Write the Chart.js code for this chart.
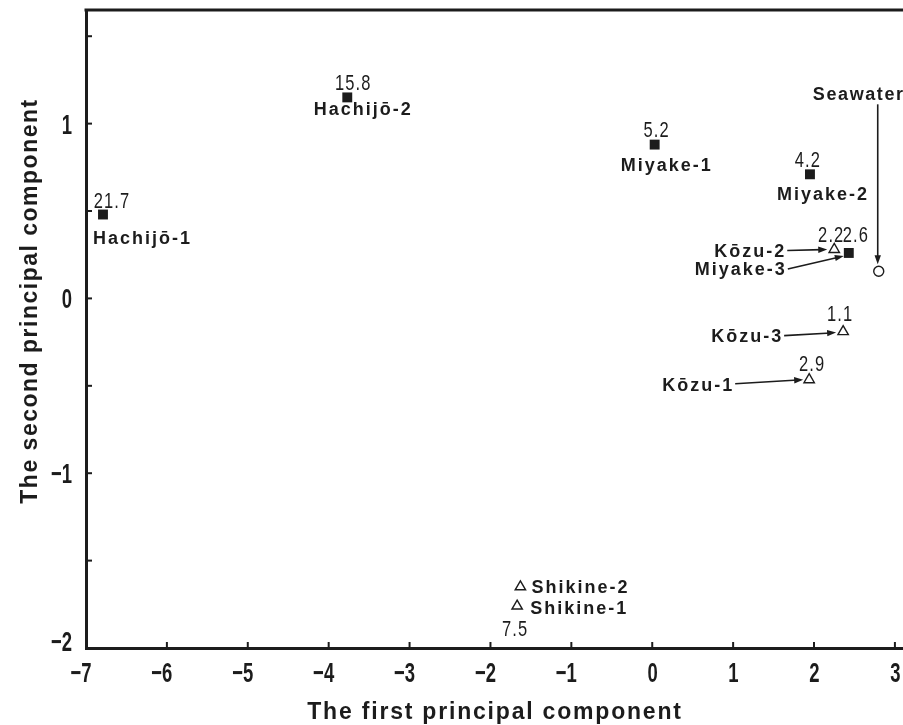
<!DOCTYPE html>
<html>
<head>
<meta charset="utf-8">
<script src="https://cdn.jsdelivr.net/npm/chart.js@4.4.1/dist/chart.umd.min.js"></script>
<style>
  html, body { margin: 0; padding: 0; background: #fff; }
  #wrap { width: 903px; height: 725px; }
</style>
</head>
<body>
<div id="wrap"><canvas id="pcaChart"></canvas></div>
<script>
// PCA scores
const squareNames = ['Hachijō-1', 'Hachijō-2', 'Miyake-1', 'Miyake-2', 'Miyake-3'];
const squarePC1 = [-6.79, -3.77, 0.03, 1.95, 2.43];
const squarePC2 = [0.48, 1.15, 0.88, 0.71, 0.26];
const squareValues = ['21.7', '15.8', '5.2', '4.2', '2.6'];

const triangleNames = ['Kōzu-1', 'Kōzu-2', 'Kōzu-3', 'Shikine-1', 'Shikine-2'];
const trianglePC1 = [1.94, 2.25, 2.36, -1.67, -1.63];
const trianglePC2 = [-0.465, 0.28, -0.19, -1.76, -1.65];
const triangleValues = ['2.9', '2.2', '1.1', '7.5', ''];

const seawaterNames = ['Seawater'];
const seawaterPC1 = [2.80];
const seawaterPC2 = [0.155];

const xTicks = [-7, -6, -5, -4, -3, -2, -1, 0, 1, 2, 3];
const yTicks = [-2, -1.5, -1, -0.5, 0, 0.5, 1, 1.5];

const ink = '#1c1c1c';
const sans = '"Liberation Sans", Arial, sans-serif';

// where each annotation sits, in px from its point
const labelSpots = {
    'Hachijō-1': { name: [-10, 23, 'left'], value: [9, -15] },
    'Hachijō-2': { name: [16, 11, 'center'], value: [6, -15] },
    'Miyake-1': { name: [12, 20, 'center'], value: [2, -16] },
    'Miyake-2': { name: [13, 19, 'center'], value: [-2, -15] },
    'Miyake-3': { name: [-64, 16, 'right'], value: [7, -19], arrow: [-61, 16, -5, 3] },
    'Kōzu-1': { name: [-77, 5, 'right'], value: [3, -17], arrow: [-74, 4, -6, 0] },
    'Kōzu-2': { name: [-50, 1, 'right'], value: [-3, -15], arrow: [-47, 1, -7, 0] },
    'Kōzu-3': { name: [-62, 4, 'right'], value: [-3, -19], arrow: [-59, 4, -7, 1] },
    'Shikine-1': { name: [13, 1, 'left'], value: [-2, 22] },
    'Shikine-2': { name: [11, 0, 'left'] },
    'Seawater': { name: [-20, -178, 'center'], arrow: [-1, -167, -1, -7] }
};

const toPoints = (xs, ys) => xs.map((x, i) => ({ x, y: ys[i] }));
const fmt = v => (v < 0 ? '\u2212' : '') + Math.abs(v);

// condensed look: squeeze a normal face horizontally
function narrowText(ctx, text, x, y, align, font, sx, spacing) {
    ctx.save();
    ctx.font = font;
    ctx.letterSpacing = (spacing || 0) + 'px';
    ctx.textAlign = align;
    ctx.textBaseline = 'alphabetic';
    ctx.scale(sx, 1);
    ctx.fillText(text, x / sx, y);
    ctx.restore();
}

function drawArrow(ctx, x1, y1, x2, y2) {
    const ang = Math.atan2(y2 - y1, x2 - x1);
    const len = 9, half = 3.2;
    ctx.beginPath();
    ctx.moveTo(x1, y1);
    ctx.lineTo(x2 - Math.cos(ang) * len * 0.6, y2 - Math.sin(ang) * len * 0.6);
    ctx.stroke();
    ctx.beginPath();
    ctx.moveTo(x2, y2);
    ctx.lineTo(x2 - Math.cos(ang) * len - Math.sin(ang) * half, y2 - Math.sin(ang) * len + Math.cos(ang) * half);
    ctx.lineTo(x2 - Math.cos(ang) * len + Math.sin(ang) * half, y2 - Math.sin(ang) * len - Math.cos(ang) * half);
    ctx.closePath();
    ctx.fill();
}

const decorPlugin = {
    id: 'decor',
    afterDatasetsDraw(chart) {
        const { ctx, chartArea: a, scales: { x, y } } = chart;
        ctx.save();
        ctx.strokeStyle = ink;
        ctx.fillStyle = ink;

        // top frame line
        ctx.lineWidth = 3;
        ctx.beginPath();
        ctx.moveTo(a.left - 1.5, a.top);
        ctx.lineTo(a.right, a.top);
        ctx.stroke();

        // inward tick marks + tick labels
        const tickFont = 'bold 28px ' + sans;
        ctx.lineWidth = 2;
        xTicks.forEach(v => {
            const px = x.getPixelForValue(v);
            ctx.beginPath();
            ctx.moveTo(px, a.bottom);
            ctx.lineTo(px, a.bottom - 6);
            ctx.stroke();
            narrowText(ctx, fmt(v), px + 5.5, a.bottom + 34, 'right', tickFont, 0.66);
        });
        yTicks.forEach(v => {
            const py = y.getPixelForValue(v);
            ctx.beginPath();
            ctx.moveTo(a.left, py);
            ctx.lineTo(a.left + 6, py);
            ctx.stroke();
            if (Number.isInteger(v)) {
                const lift = v === yTicks[0] ? 7 : 0;
                narrowText(ctx, fmt(v), 72, py + 10 - lift, 'right', tickFont, 0.66);
            }
        });

        // axis titles
        ctx.font = 'bold 23px ' + sans;
        ctx.textAlign = 'center';
        ctx.textBaseline = 'alphabetic';
        ctx.letterSpacing = '1.8px';
        ctx.fillText('The first principal component', 495, 719);
        ctx.save();
        ctx.letterSpacing = '1.5px';
        ctx.translate(37, 301);
        ctx.rotate(-Math.PI / 2);
        ctx.fillText('The second principal component', 0, 0);
        ctx.restore();

        // point annotations
        const groups = [
            [squareNames, squarePC1, squarePC2, squareValues],
            [triangleNames, trianglePC1, trianglePC2, triangleValues],
            [seawaterNames, seawaterPC1, seawaterPC2, []]
        ];
        groups.forEach(([names, xs, ys, vals]) => {
            names.forEach((name, i) => {
                const spot = labelSpots[name];
                const px = x.getPixelForValue(xs[i]);
                const py = y.getPixelForValue(ys[i]);
                ctx.textBaseline = 'alphabetic';
                ctx.font = 'bold 18px ' + sans;
                ctx.letterSpacing = name === 'Seawater' ? '1.6px' : '2px';
                ctx.textAlign = spot.name[2];
                const trail = spot.name[2] === 'right' ? 2 : 0;
                ctx.fillText(name, px + spot.name[0] + trail, py + spot.name[1] + 6.5);
                if (spot.value && vals[i]) {
                    narrowText(ctx, vals[i], px + spot.value[0], py + spot.value[1] + 8, 'center', '22px ' + sans, 0.75, 1.5);
                }
                if (spot.arrow) {
                    ctx.lineWidth = 1.6;
                    const [ax, ay, bx, by] = spot.arrow;
                    drawArrow(ctx, px + ax, py + ay, px + bx, py + by);
                }
            });
        });
        ctx.restore();
    }
};

new Chart(document.getElementById('pcaChart'), {
    type: 'scatter',
    data: {
        datasets: [
            {
                label: 'Hachijō / Miyake',
                data: toPoints(squarePC1, squarePC2),
                pointStyle: 'rect', radius: 7,
                backgroundColor: ink, borderColor: ink, borderWidth: 0
            },
            {
                label: 'Kōzu / Shikine',
                data: toPoints(trianglePC1, trianglePC2),
                pointStyle: 'triangle', radius: 6,
                backgroundColor: '#fff', borderColor: ink, borderWidth: 1.4
            },
            {
                label: 'Seawater',
                data: toPoints(seawaterPC1, seawaterPC2),
                pointStyle: 'circle', radius: 5,
                backgroundColor: '#fff', borderColor: ink, borderWidth: 1.4
            }
        ]
    },
    options: {
        responsive: true,
        maintainAspectRatio: false,
        animation: false,
        devicePixelRatio: 1,
        layout: { autoPadding: false, padding: { top: 10, left: 0, right: 0, bottom: 0 } },
        plugins: { legend: { display: false }, tooltip: { enabled: false } },
        scales: {
            x: {
                type: 'linear', position: 'bottom', min: -7, max: 3.1,
                grid: { display: false, drawTicks: false },
                border: { display: true, color: ink, width: 3 },
                ticks: { display: false },
                afterBuildTicks: s => { s.ticks = xTicks.map(value => ({ value })); },
                afterFit: s => { s.height = 77; s.paddingLeft = 0; s.paddingRight = 0; }
            },
            y: {
                type: 'linear', position: 'left', min: -2, max: 1.65,
                grid: { display: false, drawTicks: false },
                border: { display: true, color: ink, width: 3 },
                ticks: { display: false },
                afterBuildTicks: s => { s.ticks = yTicks.map(value => ({ value })); },
                afterFit: s => { s.width = 86; s.paddingTop = 0; s.paddingBottom = 0; }
            }
        }
    },
    plugins: [decorPlugin]
});
</script>
</body>
</html>
